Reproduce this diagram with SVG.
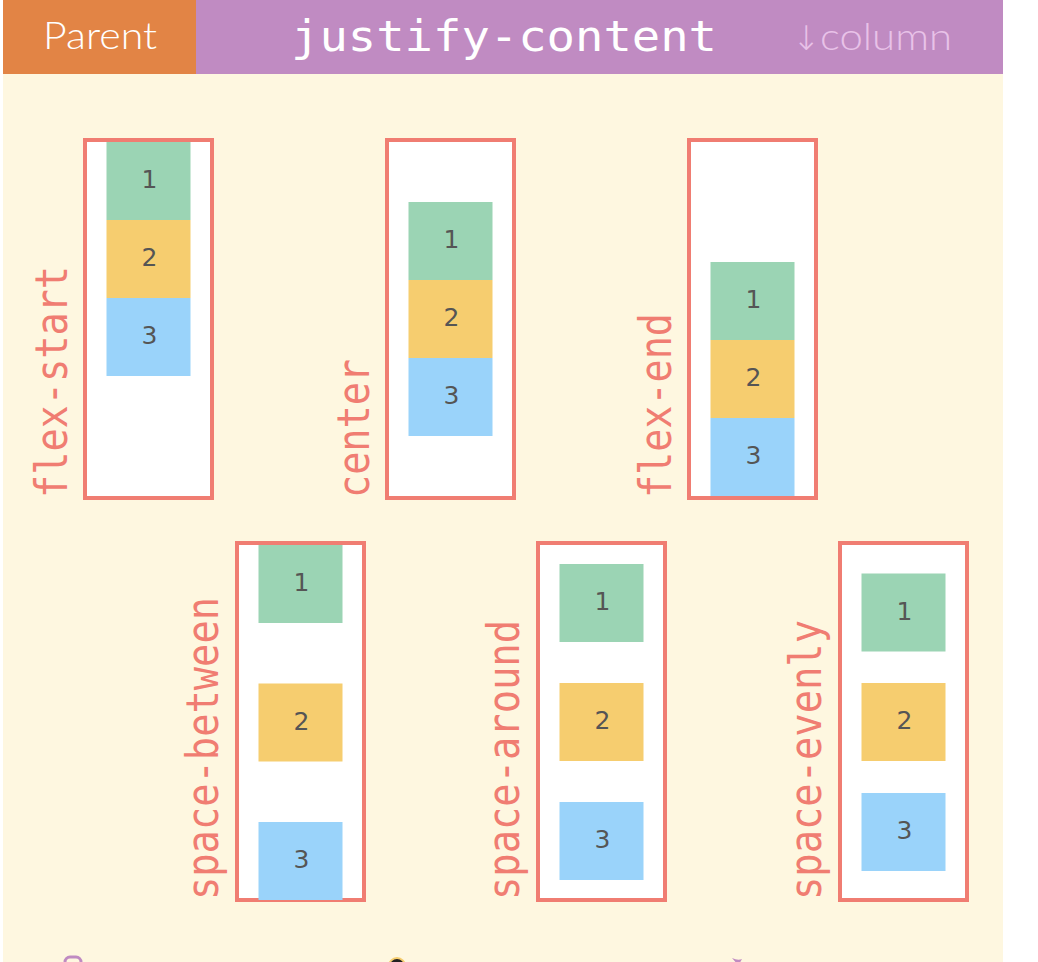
<svg xmlns="http://www.w3.org/2000/svg" width="1038" height="962" viewBox="0 0 1038 962">
<style>
.box{fill:#ffffff;stroke:#F07D72;stroke-width:4}
.i1{fill:#9BD4B4}.i2{fill:#F6CD6F}.i3{fill:#9AD3FA}
.num{font-family:"DejaVu Sans",sans-serif;font-size:25px;fill:#555555;text-anchor:middle}
.lbl{font-family:"DejaVu Sans Mono",monospace;font-size:44px;fill:#F07D72}
</style>
<rect x="0" y="0" width="1038" height="962" fill="#ffffff"/>
<rect x="3" y="74" width="1000" height="888" fill="#FEF7E0"/>
<g id="header">
<rect x="3" y="0" width="193" height="74" fill="#E28445"/>
<rect x="196" y="0" width="807" height="74" fill="#C08BC2"/>
<text x="43" y="49" font-family="Lato, sans-serif" font-weight="300" font-size="38" fill="#ffffff" textLength="114" lengthAdjust="spacingAndGlyphs">Parent</text>
<text x="291" y="51" font-family="DejaVu Sans Mono, monospace" font-size="42" fill="#ffffff" textLength="426" lengthAdjust="spacingAndGlyphs">justify-content</text>
<text x="792" y="50" font-family="DejaVu Sans, sans-serif" font-weight="300" font-size="34" fill="#E8C2E8">↓</text>
<text x="820" y="50" font-family="Lato, sans-serif" font-weight="300" font-size="37" fill="#E8C2E8" textLength="132" lengthAdjust="spacingAndGlyphs">column</text>
</g>
<g id="flex-start">
<rect class="box" x="85" y="140" width="127" height="358"/>
<rect class="i1" x="106.5" y="142" width="84" height="78"/><text class="num" x="149.5" y="188">1</text>
<rect class="i2" x="106.5" y="220" width="84" height="78"/><text class="num" x="149.5" y="266">2</text>
<rect class="i3" x="106.5" y="298" width="84" height="78"/><text class="num" x="149.5" y="344">3</text>
<text class="lbl" transform="translate(67,498) rotate(-90)" textLength="232" lengthAdjust="spacingAndGlyphs">flex-start</text>
</g>
<g id="center">
<rect class="box" x="387" y="140" width="127" height="358"/>
<rect class="i1" x="408.5" y="202" width="84" height="78"/><text class="num" x="451.5" y="248">1</text>
<rect class="i2" x="408.5" y="280" width="84" height="78"/><text class="num" x="451.5" y="326">2</text>
<rect class="i3" x="408.5" y="358" width="84" height="78"/><text class="num" x="451.5" y="404">3</text>
<text class="lbl" transform="translate(369,498) rotate(-90)" textLength="139" lengthAdjust="spacingAndGlyphs">center</text>
</g>
<g id="flex-end">
<rect class="box" x="689" y="140" width="127" height="358"/>
<rect class="i1" x="710.5" y="262" width="84" height="78"/><text class="num" x="753.5" y="308">1</text>
<rect class="i2" x="710.5" y="340" width="84" height="78"/><text class="num" x="753.5" y="386">2</text>
<rect class="i3" x="710.5" y="418" width="84" height="78"/><text class="num" x="753.5" y="464">3</text>
<text class="lbl" transform="translate(671,498) rotate(-90)" textLength="185" lengthAdjust="spacingAndGlyphs">flex-end</text>
</g>
<g id="space-between">
<rect class="box" x="237" y="543" width="127" height="357"/>
<rect class="i1" x="258.5" y="545" width="84" height="78"/><text class="num" x="301.5" y="591">1</text>
<rect class="i2" x="258.5" y="683.5" width="84" height="78"/><text class="num" x="301.5" y="729.5">2</text>
<rect class="i3" x="258.5" y="822" width="84" height="78"/><text class="num" x="301.5" y="868">3</text>
<text class="lbl" transform="translate(218,900) rotate(-90)" textLength="303" lengthAdjust="spacingAndGlyphs">space-between</text>
</g>
<g id="space-around">
<rect class="box" x="538" y="543" width="127" height="357"/>
<rect class="i1" x="559.5" y="564" width="84" height="78"/><text class="num" x="602.5" y="610">1</text>
<rect class="i2" x="559.5" y="683" width="84" height="78"/><text class="num" x="602.5" y="729">2</text>
<rect class="i3" x="559.5" y="802" width="84" height="78"/><text class="num" x="602.5" y="848">3</text>
<text class="lbl" transform="translate(519,900) rotate(-90)" textLength="280" lengthAdjust="spacingAndGlyphs">space-around</text>
</g>
<g id="space-evenly">
<rect class="box" x="840" y="543" width="127" height="357"/>
<rect class="i1" x="861.5" y="573.5" width="84" height="78"/><text class="num" x="904.5" y="619.5">1</text>
<rect class="i2" x="861.5" y="683" width="84" height="78"/><text class="num" x="904.5" y="729">2</text>
<rect class="i3" x="861.5" y="793" width="84" height="78"/><text class="num" x="904.5" y="839">3</text>
<text class="lbl" transform="translate(821,900) rotate(-90)" textLength="280" lengthAdjust="spacingAndGlyphs">space-evenly</text>
</g>
<g id="connectors"></g>
<g id="footer">
<rect x="65" y="957" width="16" height="16" rx="5" fill="none" stroke="#C08BC2" stroke-width="3"/>
<circle cx="397" cy="966" r="8" fill="#222222" stroke="#F6CD6F" stroke-width="2"/>
<path d="M732 958 q6 3 10 1 q-2 4 -4 6 z" fill="#C08BC2"/>
</g>
</svg>
